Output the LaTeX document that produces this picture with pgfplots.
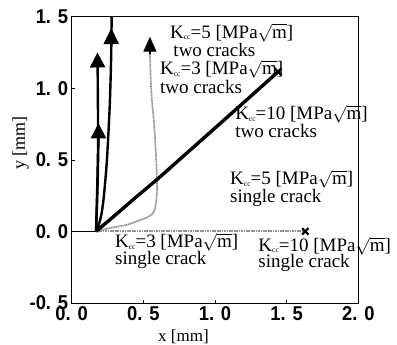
\documentclass[border=0pt]{standalone}
\usepackage{fontspec}
\setmainfont{Liberation Serif}
\newfontfamily\tickfont{Liberation Sans}[FakeStretch=0.92]
\usepackage{pgfplots}
\pgfplotsset{compat=1.18}
\usetikzlibrary{arrows.meta}
\newcommand{\Kcc}[1]{K\raisebox{-1.5pt}{\fontsize{7.5}{7.5}\selectfont cc}=#1 [MPa$\sqrt{\mbox{m}}$]}
\begin{document}
\begin{tikzpicture}
\begin{axis}[
 scale only axis, width=286.7pt, height=286.3pt,
 xmin=0, xmax=2, ymin=-0.5, ymax=1.5,
 xtick={0,0.5,1,1.5,2}, xticklabels={0. 0,0. 5,1. 0,1. 5,2. 0},
 ytick={-0.5,0,0.5,1,1.5}, yticklabels={-0. 5,0. 0,0. 5,1. 0,1. 5},
 tick align=inside, major tick length=3pt, tick pos=left,
 tick style={black, line width=0.6pt},
 axis line style={line width=0.8pt},
 ticklabel style={font=\tickfont\bfseries\fontsize{20}{20}\selectfont},
 xlabel={x [mm]}, ylabel={y [mm]},
 xlabel style={font=\fontsize{17}{17}\selectfont, at={(axis description cs:0.39,-0.118)},anchor=center},
 ylabel style={font=\fontsize{18}{18}\selectfont, at={(axis description cs:-0.178,0.559)},anchor=center},
 clip=false,
]
% initial crack
\addplot[black, line width=1.6pt] coordinates {(0,0)(0.17,0)};
% Kcc=10 single crack
\addplot[gray!85, dash pattern=on 1.2pt off 0.5pt, line width=1.8pt] coordinates {(0.17,0)(1.62,0)};
\addplot[black, only marks, mark=x, mark size=4.5pt, line width=2.2pt] coordinates {(1.63,0)};
% Kcc=3 two cracks (gray)
\addplot[gray!85, dash pattern=on 1.2pt off 0.5pt, line width=1.7pt, smooth] coordinates {
 (0.17,0)(0.27,0.024)(0.38,0.045)(0.454,0.07)(0.53,0.1)(0.57,0.13)(0.588,0.2)
 (0.595,0.3)(0.59,0.5)(0.575,0.75)(0.558,0.94)(0.55,1.1)(0.546,1.26)};
\addplot[black, line width=1.2pt, -{Triangle[length=15pt,width=13pt]}] coordinates {(0.546,1.24)(0.546,1.36)};
% Kcc=5 two cracks (curved)
\addplot[black, line width=2.4pt, smooth] coordinates {
 (0.17,0)(0.19,0.05)(0.209,0.128)(0.225,0.25)(0.244,0.47)(0.257,0.7)(0.267,0.92)(0.275,1.2)(0.279,1.5)};
\addplot[black, line width=2.4pt, -{Triangle[length=16pt,width=15pt]}] coordinates {(0.276,1.30)(0.277,1.42)};
% nearly vertical line with two arrows
\addplot[black, line width=2.4pt, smooth, -{Triangle[length=15pt,width=15pt]}] coordinates {
 (0.17,0)(0.178,0.3)(0.184,0.6)(0.183,0.9)(0.18,1.25)};
\addplot[black, line width=2.4pt, smooth, -{Triangle[length=15pt,width=15pt]}] coordinates {
 (0.17,0)(0.18,0.3)(0.186,0.6)(0.187,0.755)};
% Kcc=10 two cracks
\addplot[black, line width=3.4pt] coordinates {
 (0.17,0)(0.3,0.11)(0.45,0.24)(0.593,0.36)(0.9,0.633)(1.2,0.9)(1.44,1.115)};
\addplot[black, only marks, mark=x, mark size=5pt, line width=2.4pt] coordinates {(1.44,1.115)};
% labels
\begin{scope}[every node/.style={anchor=base west, inner sep=0pt, font=\fontsize{19}{19}\selectfont}]
\node at (axis cs:0.686,1.350) {\Kcc{5}};
\node at (axis cs:0.709,1.221) {two cracks};
\node at (axis cs:0.616,1.094) {\Kcc{3}};
\node at (axis cs:0.616,0.966) {two cracks};
\node at (axis cs:1.140,0.780) {\Kcc{10}};
\node at (axis cs:1.140,0.654) {two cracks};
\node at (axis cs:1.105,0.326) {\Kcc{5}};
\node at (axis cs:1.105,0.205) {single crack};
\node at (axis cs:0.302,-0.116) {\Kcc{3}};
\node at (axis cs:0.302,-0.232) {single crack};
\node at (axis cs:1.302,-0.140) {\Kcc{10}};
\node at (axis cs:1.302,-0.255) {single crack};
\end{scope}
\end{axis}
\pgfresetboundingbox
\path ([shift={(-71.7pt,-42pt)}]current axis.south west) rectangle ([shift={(38.7pt,16.7pt)}]current axis.north east);
\end{tikzpicture}
\end{document}
